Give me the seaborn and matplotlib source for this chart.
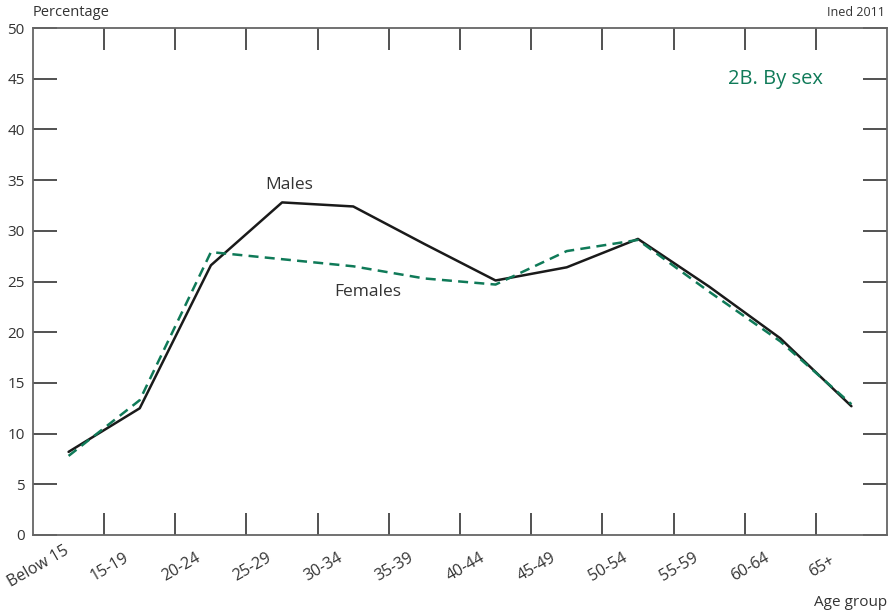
import matplotlib
matplotlib.use("Agg")
import matplotlib.pyplot as plt
import seaborn as sns
import pandas as pd

age_groups = ["Below 15", "15-19", "20-24", "25-29", "30-34", "35-39",
              "40-44", "45-49", "50-54", "55-59", "60-64", "65+"]
males = [8.2, 12.5, 26.6, 32.8, 32.4, 28.7, 25.1, 26.4, 29.2, 24.5, 19.4, 12.7]
females = [7.8, 13.3, 27.9, 27.2, 26.5, 25.3, 24.7, 28.0, 29.1, 24.0, 19.1, 12.9]
y_ticks = [0, 5, 10, 15, 20, 25, 30, 35, 40, 45, 50]

sns.set_theme(style="white")
plt.rcParams['font.family'] = ['Open Sans', 'DejaVu Sans']

GREEN = "#0f7a58"
GREY = "#666666"
TXT = "#333333"

df = pd.DataFrame({
    "pos": list(range(len(age_groups))) * 2,
    "value": males + females,
    "sex": ["Males"] * len(age_groups) + ["Females"] * len(age_groups),
})

fig = plt.figure(figsize=(8.93, 6.13), dpi=100)
ax = fig.add_axes([33 / 893, 1 - 535 / 613, (887 - 33) / 893, (535 - 28) / 613])

sns.lineplot(data=df, x="pos", y="value", hue="sex", style="sex",
             palette={"Males": "#1a1a1a", "Females": GREEN},
             dashes={"Males": "", "Females": (4, 2.5)},
             linewidth=1.8, legend=False, ax=ax)

ax.set_xlim(-0.5, len(age_groups) - 0.5)
ax.set_ylim(0, 50)

for s in ax.spines.values():
    s.set_color(GREY)
    s.set_linewidth(1.3)

# y ticks on both sides, inward
ax.set_yticks(y_ticks)
ax.set_yticklabels([str(v) for v in y_ticks])
ax.tick_params(axis="y", which="major", direction="in", length=17, width=1.2,
               color="#333333", left=True, right=True, labelsize=11,
               labelcolor=TXT, pad=6)

# x ticks at category boundaries on top and bottom, inward
bounds = [i + 0.5 for i in range(len(age_groups) - 1)]
ax.set_xticks(bounds)
ax.set_xticklabels([])
ax.tick_params(axis="x", which="major", direction="in", length=16, width=1.2,
               color="#333333", top=True, bottom=True)
# rotated labels, centred slightly left of each category centre
label_shift = 0.42
ax.set_xticks([i - label_shift for i in range(len(age_groups))], minor=True)
ax.set_xticklabels(age_groups, minor=True, rotation=30, ha="center",
                   va="center", fontsize=11.5, color=TXT)
ax.tick_params(axis="x", which="minor", length=0, pad=23)

ax.set_xlabel("")
ax.set_ylabel("")

fig.text(33 / 893, 1 - 12 / 613, "Percentage", ha="left", va="center",
         fontsize=10.5, color=TXT)
fig.text(885 / 893, 1 - 13 / 613, "Ined 2011", ha="right", va="center",
         fontsize=9, color=TXT)
fig.text(887 / 893, 1 - 602 / 613, "Age group", ha="right", va="center",
         fontsize=11, color=TXT)

fig.text(775 / 893, 1 - 79 / 613, "2B. By sex", ha="center", va="center",
         fontsize=14.5, color=GREEN)

ax.text(3.1, 34.5, "Males", ha="center", va="center", fontsize=12.5, color=TXT)
ax.text(4.2, 24.0, "Females", ha="center", va="center", fontsize=12.5, color=TXT)

fig.savefig("out.png", dpi=100, facecolor="white")
